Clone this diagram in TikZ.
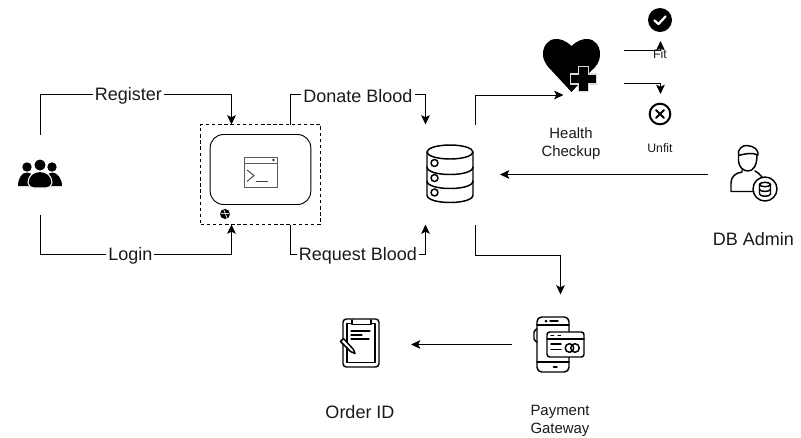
\documentclass[tikz,border=0pt]{standalone}
\usepackage{fontspec}
\setmainfont{Liberation Sans}
\usetikzlibrary{arrows.meta,calc}
\definecolor{ink}{HTML}{000000}
\definecolor{txt}{HTML}{1A1A1A}
\tikzset{
  conn/.style={draw=ink,line width=0.7pt,-{Stealth[length=7pt,width=6.5pt,inset=1.6pt]}},
  big/.style={font=\fontsize{13.5}{16}\selectfont,text=txt,inner sep=1.5pt},
  mid/.style={font=\fontsize{11.2}{13.5}\selectfont,text=txt,align=center,inner sep=0pt},
  small/.style={font=\fontsize{9.2}{11}\selectfont,text=txt,inner sep=0pt},
  edgelabel/.style={big,fill=white,yshift=-1pt},
  iconbox/.style={draw=none,inner sep=0pt,outer sep=0pt,minimum width=#1},
  ic/.style={line width=1.1pt,line cap=round,line join=round},
}
\begin{document}
\begin{tikzpicture}[x=0.75pt,y=-0.75pt]
\useasboundingbox (0,0) rectangle (801,437);
\fill[white] (0,0) rectangle (801,437);

% anchor nodes
\node[iconbox=60pt,minimum height=60pt] (users) at (40.5,174.5) {};
\node[draw=ink,dash pattern=on 2.6pt off 2pt,line width=0.7pt,inner sep=0pt,outer sep=0pt,minimum width=90pt,minimum height=75pt] (term) at (260.5,174.5) {};
\node[draw=ink,line width=0.7pt,rounded corners=10pt,inner sep=0pt,outer sep=0pt,minimum width=75.5pt,minimum height=52.5pt] (win) at (260.5,169.5) {};
\node[iconbox=37.5pt,minimum height=75pt] (db) at (450.5,174.5) {};
\node[iconbox=39pt,minimum height=45pt] (heart) at (571.5,65) {};
\node[iconbox=18pt,minimum height=31.5pt] (fit) at (660.5,20) {};
\node[iconbox=18pt,minimum height=30pt] (unfit) at (660.5,114) {};
\node[iconbox=36pt,minimum height=45pt] (admin) at (732,174.5) {};
\node[iconbox=73.5pt,minimum height=75pt] (pay) at (560.5,344.5) {};
\node[iconbox=76.5pt,minimum height=45pt] (order) at (360,344.5) {};

% users icon
\fill[ink] (27,167) circle (4.7);
\fill[ink] (52,167) circle (4.7);
\fill[ink] (18,186) .. controls (18,178) and (22,172.5) .. (27,172.5) .. controls (32,172.5) and (36,178) .. (36,186) -- cycle;
\fill[ink] (44,186) .. controls (44,178) and (48,172.5) .. (52,172.5) .. controls (57,172.5) and (62,178) .. (62,186) -- cycle;
\fill[ink,draw=white,line width=0.8pt] (40,165) circle (6);
\fill[ink,draw=white,line width=0.8pt] (28,183) .. controls (28,176) and (33,171.5) .. (40,171.5) .. controls (47,171.5) and (52,176) .. (52,183) .. controls (52,186) and (49,188) .. (46,188) -- (34,188) .. controls (31,188) and (28,186) .. (28,183) -- cycle;

% terminal icon
\draw[draw=black!65,line width=0.7pt] (244,157) rectangle (277,187);
\draw[draw=black!65,line width=0.7pt] (244,163) -- (277,163);
\fill[black!80] (273.5,160) circle (1.3);
\draw[draw=black!75,line width=0.7pt] (247,170) -- (254,175.5) -- (247,181.5);
\draw[draw=black!75,line width=0.7pt] (256,181.5) -- (268,181.5);

% globe
\fill[ink] (225,214) circle (5);
\draw[white,line width=0.5pt] (220.5,213) .. controls (224,215) and (227,212) .. (229.5,214);
\draw[white,line width=0.5pt] (224,210) -- (227,218);

% database icon
\begin{scope}[ic]
\draw (450,152) ellipse (23 and 7);
\draw (427,152) -- (427,195) .. controls (427,205) and (473,205) .. (473,195) -- (473,152);
\draw (427,167) .. controls (427,177) and (473,177) .. (473,167);
\draw (427,181) .. controls (427,191) and (473,191) .. (473,181);
\draw (434.5,163) circle (3.5);
\draw (434.5,178) circle (3.5);
\draw (434.5,192.5) circle (3.5);
\end{scope}

% heart
\fill[ink] (571.5,46) .. controls (565,40) and (560,39) .. (556,39) .. controls (548,39) and (543,46) .. (543,54) .. controls (543,62) and (548,67) .. (552,71) -- (571.5,92) -- (591,71) .. controls (596,67) and (600,62) .. (600,54) .. controls (600,46) and (595,39) .. (587,39) .. controls (583,39) and (578,40) .. (571.5,46) -- cycle;
\fill[ink,draw=white!85!black,line width=1pt] (578.5,66.5) -- (588.5,66.5) -- (588.5,74) -- (596.5,74) -- (596.5,84) -- (588.5,84) -- (588.5,91.5) -- (578.5,91.5) -- (578.5,84) -- (570.5,84) -- (570.5,74) -- (578.5,74) -- cycle;

% fit icon
\fill[ink] (660,20) circle (12);
\draw[white,line width=1.7pt,line cap=round,line join=round] (654.5,20.5) -- (658.5,24) -- (665.5,16.5);
% unfit icon
\draw[ink,line width=1.5pt] (660,114) circle (10.3);
\draw[ink,line width=1.5pt,line cap=round] (656,110) -- (664,118) (664,110) -- (656,118);

% admin icon
\begin{scope}[ic]
\draw (738.5,155.5) .. controls (737,149) and (743,145) .. (747,145.5) .. controls (754,146) and (759,150) .. (758,155) .. controls (752,152) and (744,154) .. (738.5,155.5) -- cycle;
\draw (738.5,156) -- (738.5,161) .. controls (739,167) and (743,171) .. (748,171) .. controls (753,171) and (757,166) .. (757,155);
\draw (742,170) -- (742,172) .. controls (735,173) and (731,177) .. (731,183) -- (731,191.5) -- (753,191.5);
\draw (755,171) .. controls (758,173) and (760,174) .. (762,177);
\draw (765,189) circle (12);
\draw (765,184.5) ellipse (5.5 and 2.2);
\draw (759.5,184.5) -- (759.5,194) .. controls (760,197) and (770,197) .. (770.5,194) -- (770.5,184.5);
\draw (759.5,189.5) .. controls (760,192) and (770,192) .. (770.5,189.5);
\end{scope}

% payment icon
\begin{scope}[ic]
\draw[rounded corners=3.5pt] (537,317) rectangle (569,372);
\draw (537,325) -- (569,325);
\draw (537,362) -- (569,362);
\draw (553.5,367) -- (557,367);
\fill[ink] (546,321) circle (1.5);
\draw (550,321) -- (558,321);
\draw[rounded corners=1.5pt] (537,329) -- (534,330) -- (534,341) -- (537,342);
\filldraw[fill=white,rounded corners=2pt] (547,332) rectangle (584,357);
\draw (547,339) -- (584,339);
\draw (551,335.5) -- (553.5,335.5) (558,335.5) -- (560.5,335.5);
\draw (551,344) -- (561,344) (551,349.5) -- (561,349.5);
\draw (569.5,348) circle (4.3);
\draw (575,348) circle (4.3);
\end{scope}

% order icon
\begin{scope}[ic]
\draw[rounded corners=2.5pt] (343,319) rectangle (379,367);
\draw (347,323.5) -- (347,362.5) -- (375,362.5) -- (375,323.5) -- (371,323.5);
\draw (352,323.5) -- (347,323.5);
\draw (352,320) -- (352,324.5) -- (371,324.5) -- (371,320);
\draw[line width=0.9pt] (351,331) -- (370,331) (351,335) -- (362,335) (351,339) -- (369,339);
\filldraw[fill=white] (340.5,341.5) -- (343.5,338.5) -- (353.5,349.5) -- (355,353.5) -- (350.5,351.5) -- cycle;
\end{scope}

% connectors
\draw[conn] (users.north) |- node[edgelabel,pos=0.73] {Register} ($(term.north)+(-29,-30)$) -- ($(term.north)+(-29,0)$);
\draw[conn] (users.south) |- node[edgelabel,pos=0.735] {Login} ($(term.south)+(-29,30)$) -- ($(term.south)+(-29,0)$);
\draw[conn] ($(term.north)+(30,0)$) |- node[edgelabel,pos=0.75] {Donate Blood} ($(db.north west)+(0,-30)$) -- (db.north west);
\draw[conn] ($(term.south)+(30,0)$) |- node[edgelabel,pos=0.75] {Request Blood} ($(db.south west)+(0,30)$) -- (db.south west);
\draw[conn] (db.north east) |- ($(heart.south)+(-8,0)$);
\draw[conn] (admin.west) -- (500,174.5);
\draw[conn] (db.south east) |- ($(pay.north)+(0,-39)$) -- (pay.north);
\draw[conn] (pay.west) -- (order.east);
\draw[conn] ($(heart.center)+(52.5,-14.5)$) -| (fit.south);
\draw[conn] ($(heart.center)+(52.5,18.5)$) -| (unfit.north);

% labels
\node[mid] (lh) at (571,143.5) {Health\\Checkup};
\node[small] (lf) at (660,54) {Fit};
\node[small] (lu) at (660,148) {Unfit};
\node[big] (la) at (753.5,239) {DB Admin};
\node[mid] (lp) at (560,420.5) {Payment\\Gateway};
\node[big] (lo) at (360,412) {Order ID};
\end{tikzpicture}
\end{document}
